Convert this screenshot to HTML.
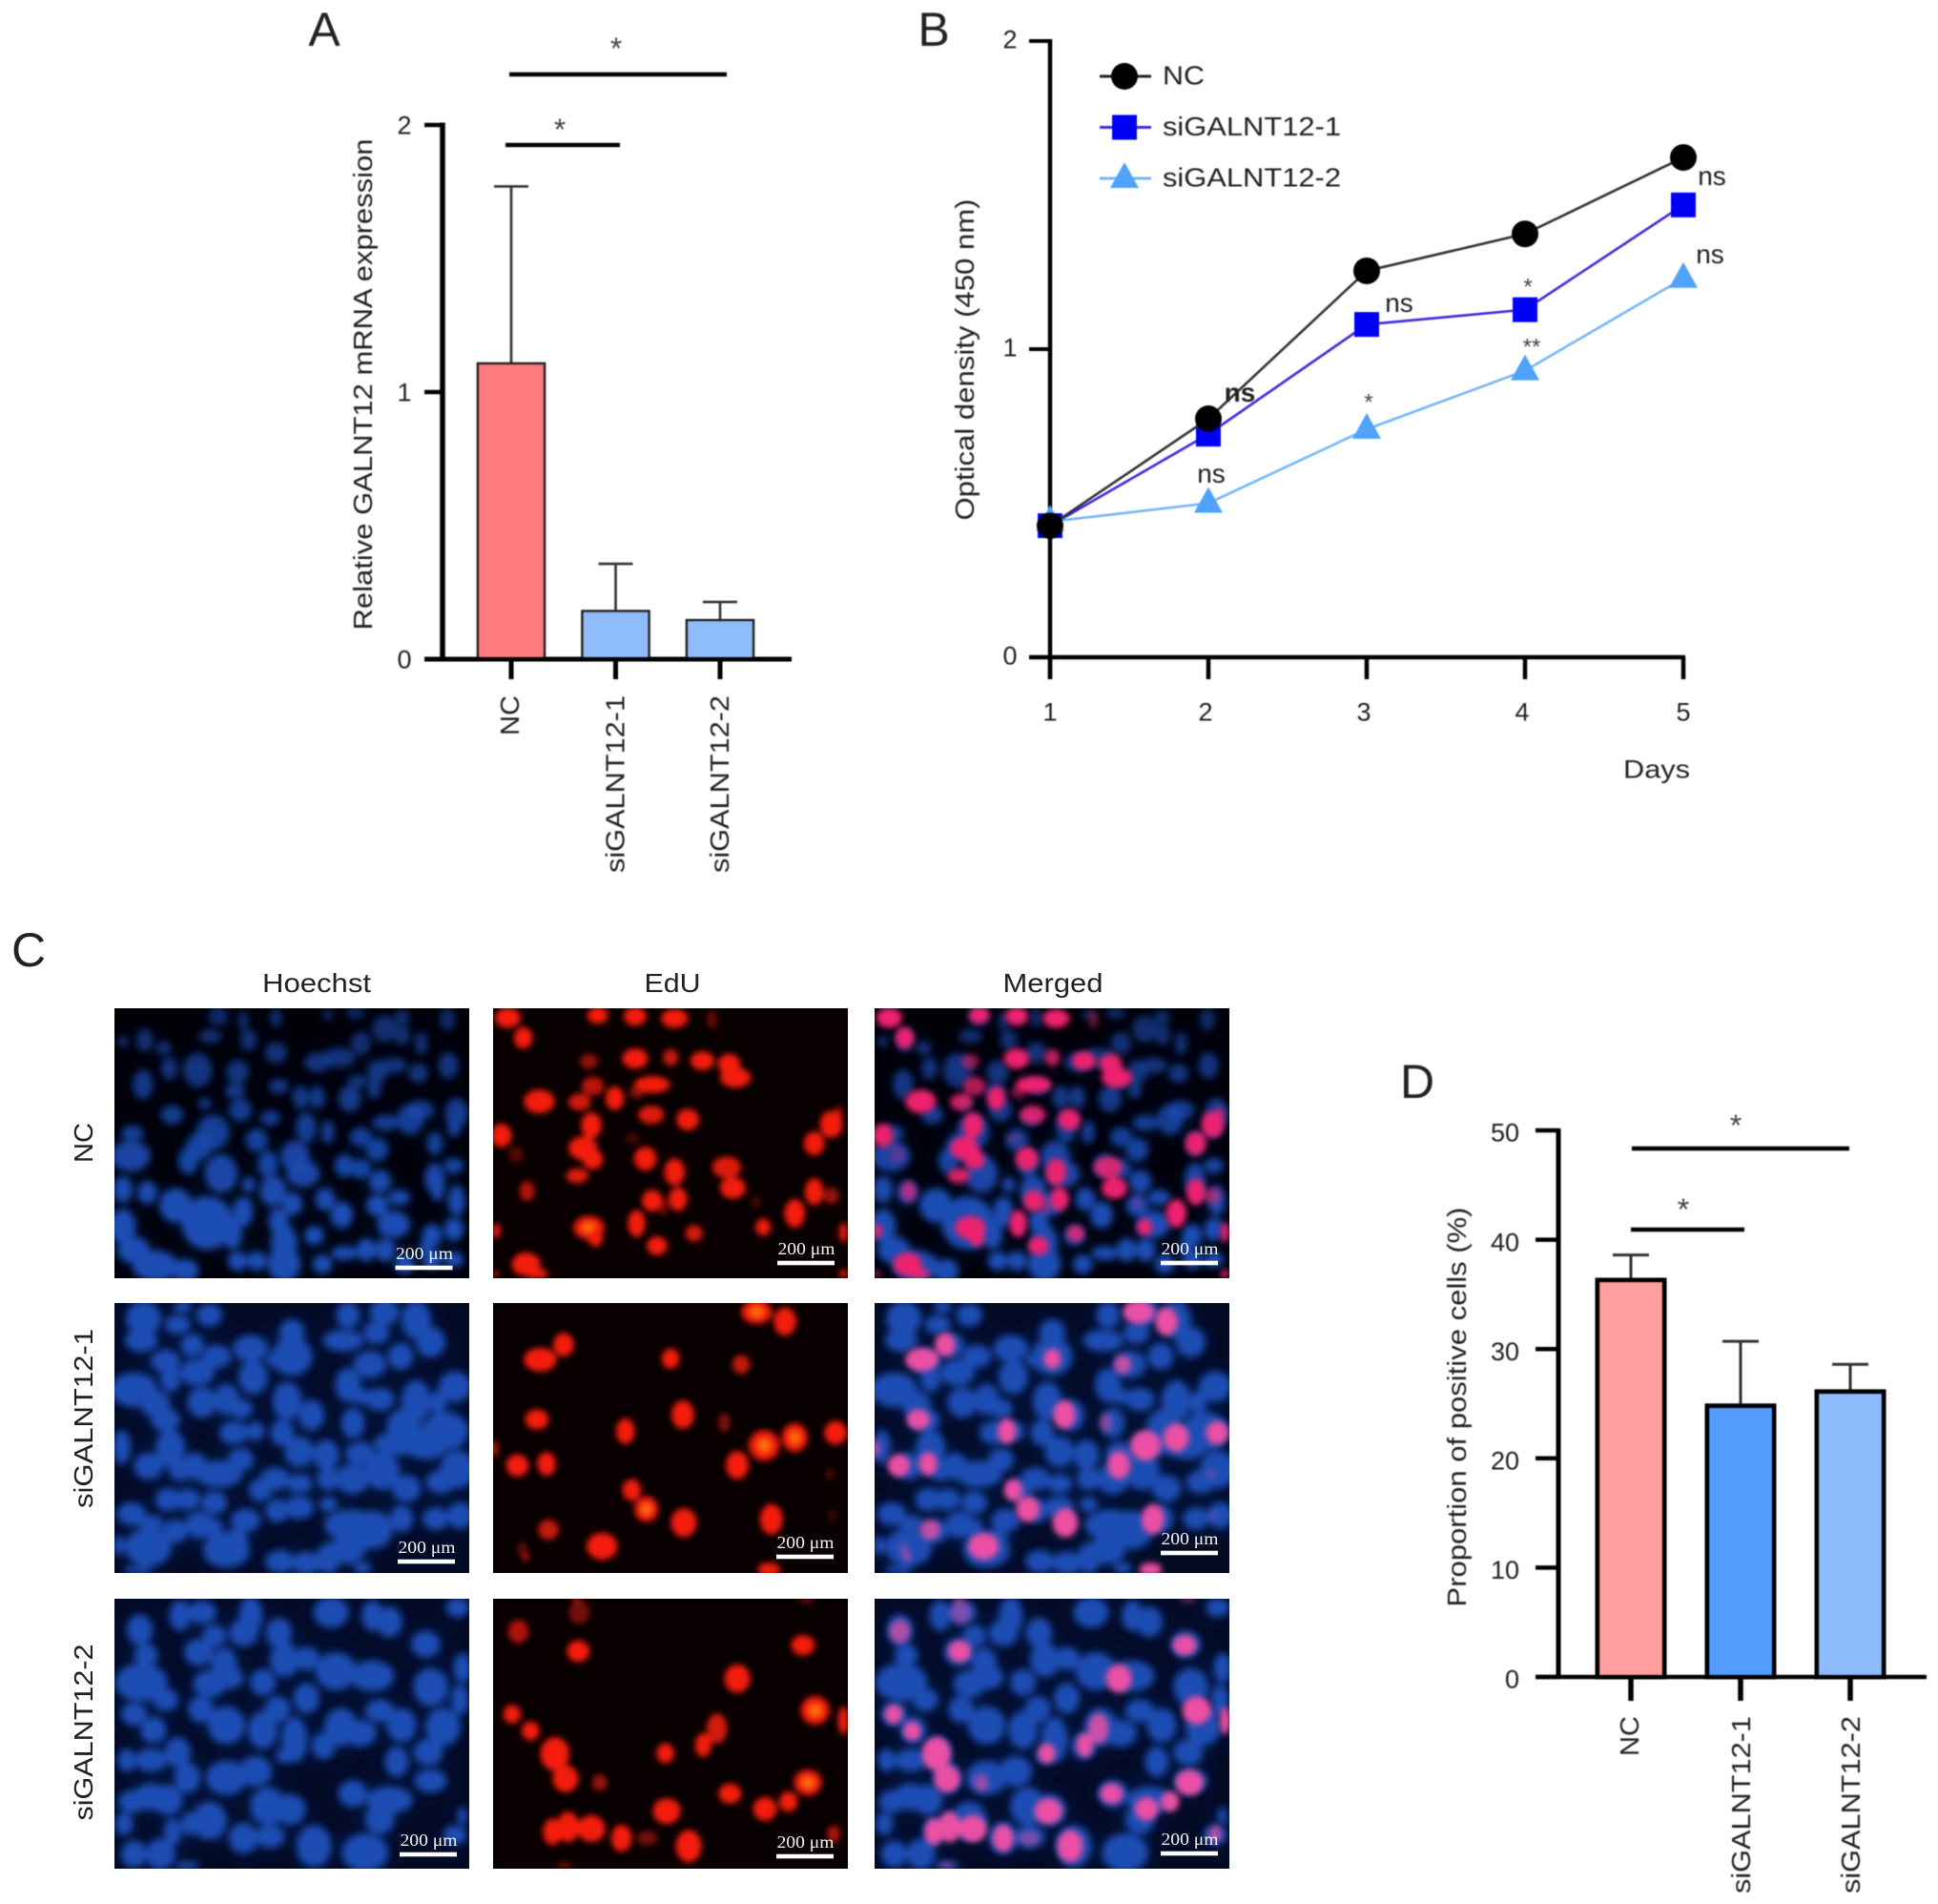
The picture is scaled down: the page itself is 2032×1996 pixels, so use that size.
<!DOCTYPE html>
<html lang="en">
<head>
<meta charset="utf-8">
<title>GALNT12 knockdown figure</title>
<style>
html,body{margin:0;padding:0;background:#fff;width:2032px;height:1996px;overflow:hidden}
svg{display:block}
text{font-family:"Liberation Sans",Arial,sans-serif;fill:#222}
.scale-text{font-family:"Liberation Serif","Times New Roman",serif;fill:#f2f2f2}
</style>
</head>
<body>
<svg id="fig" xmlns="http://www.w3.org/2000/svg" width="2032" height="1996" viewBox="0 0 2032 1996">
<defs>
<filter id="cellBlur" x="-5%" y="-5%" width="110%" height="110%"><feGaussianBlur stdDeviation="3.2"/></filter>
<filter id="blueBlur" x="-5%" y="-5%" width="110%" height="110%">
<feGaussianBlur in="SourceGraphic" stdDeviation="3.6" result="core"/>
<feGaussianBlur in="SourceGraphic" stdDeviation="11" result="wide"/>
<feComponentTransfer in="wide" result="glow"><feFuncA type="linear" slope="0.35"/></feComponentTransfer>
<feMerge><feMergeNode in="glow"/><feMergeNode in="core"/></feMerge>
</filter>
<filter id="softBlur" x="-2%" y="-2%" width="104%" height="104%"><feGaussianBlur stdDeviation="0.5"/></filter>
</defs>
<g id="panelA" filter="url(#softBlur)"></g>
<g id="panelB" filter="url(#softBlur)"></g>
<g id="panelC"></g>
<g id="panelD" filter="url(#softBlur)"></g>
</svg>
<script>
/* ---------- Panel A data ---------- */
const aCategories = ["NC", "siGALNT12-1", "siGALNT12-2"];
const aValues = [1.107, 0.18, 0.146];
const aErrorTops = [1.77, 0.357, 0.214];
const aColors = ["#FF7B7E", "#8FBCFA", "#8FBCFA"];
const aTicks = [0, 1, 2];
/* ---------- Panel B data ---------- */
const bDays = [1, 2, 3, 4, 5];
const bNC = [0.427, 0.774, 1.254, 1.374, 1.622];
const bSi1 = [0.427, 0.724, 1.08, 1.128, 1.468];
const bSi2 = [0.44, 0.50, 0.74, 0.93, 1.23];
const bTicks = [0, 1, 2];
/* ---------- Panel D data ---------- */
const dCategories = ["NC", "siGALNT12-1", "siGALNT12-2"];
const dValues = [36.3, 24.8, 26.1];
const dErrorTops = [38.6, 30.7, 28.6];
const dColors = ["#FF9E9E", "#559CFF", "#8DBBFB"];
const dTicks = [0, 10, 20, 30, 40, 50];

/* ---------- Axis functions ---------- */
const aY = v => 691 - 280 * v;
const aX = i => 536 + 109.5 * i;
const bY = v => 689 - 323 * v;
const bX = d => 1101 + 166 * (d - 1);
const dY = v => 1758 - 11.46 * v;
const dX = i => 1710 + 115 * i;

const NS = "http://www.w3.org/2000/svg";
function mk(tag, parent, props) {
  const el = document.createElementNS(NS, tag);
  for (const k in props) el.setAttribute(k, props[k]);
  parent.appendChild(el);
  return el;
}
function ln(parent, x1, y1, x2, y2, w, color) {
  return mk("line", parent, {x1, y1, x2, y2, "stroke-width": w, stroke: color || "#000"});
}
function label(parent, x, y, s, size, anchor, len, rot) {
  const t = mk("text", parent, {"font-size": size, "text-anchor": anchor || "middle"});
  if (rot) {
    t.setAttribute("transform", "translate(" + x + "," + y + ") rotate(-90)");
    t.setAttribute("x", 0);
    t.setAttribute("y", 0.36 * size);
  } else {
    t.setAttribute("x", x);
    t.setAttribute("y", y + 0.36 * size);
  }
  if (len) {
    t.setAttribute("textLength", len);
    t.setAttribute("lengthAdjust", "spacingAndGlyphs");
  }
  t.textContent = s;
  return t;
}
function star(parent, x, y, s, size) {
  const t = mk("text", parent, {x, y: y + 0.56 * size, "font-size": size, "text-anchor": "middle"});
  t.setAttribute("fill", "#444");
  t.style.fill = "#444";
  t.textContent = s;
  return t;
}
let el;

/* ---------- Panel A ---------- */
const pA = document.getElementById("panelA");
el = label(pA, 340, 30, "A", 50);


aValues.forEach((v, i) => {
  const cx = aX(i);
  el = ln(pA, cx, aY(v), cx, aY(aErrorTops[i]), 2.6, "#333");
  
  
  el = ln(pA, cx - 18, aY(aErrorTops[i]), cx + 18, aY(aErrorTops[i]), 2.6, "#333");
  
  
  el = mk("rect", pA, {x: cx - 35, y: aY(v), width: 70, height: aY(0) - aY(v), fill: aColors[i], stroke: "#222", "stroke-width": 2.6});
  
  
  el = ln(pA, cx, aY(0), cx, 712, 5);
  
  
  el = label(pA, cx - (i === 0 ? 2 : 1), 729, aCategories[i], 28, "end", i === 0 ? 42 : 186, true);
  
  
});
el = ln(pA, 464, aY(2) - 2.5, 464, aY(0) + 2.5, 5.5);


el = ln(pA, 445, aY(0), 830, aY(0), 5);


aTicks.forEach(v => {
  el = ln(pA, 445, aY(v), 464, aY(v), 4.5);
  
  
  el = label(pA, 424, aY(v), String(v), 27);
  
  
});
el = label(pA, 380, 403, "Relative GALNT12 mRNA expression", 28, "middle", 515, true);


el = ln(pA, 534, 78, 762, 78, 4.5);


el = ln(pA, 530, 152, 650, 152, 4.5);


el = star(pA, 646, 44, "*", 32);


el = star(pA, 587, 129, "*", 32);



/* ---------- Panel B ---------- */
const pB = document.getElementById("panelB");
el = label(pB, 979, 30, "B", 50);


el = ln(pB, 1101, bY(2) - 2, 1101, 712, 4.5);


el = ln(pB, 1079, bY(0), 1767, bY(0), 4.5);


bTicks.forEach(v => {
  el = ln(pB, 1079, bY(v), 1101, bY(v), 4);
  
  
  el = label(pB, 1059, bY(v) - 2, String(v), 27);
  
  
});
bDays.forEach(d => {
  el = ln(pB, bX(d), bY(0), bX(d), 712, 4.5);
  
  
  el = label(pB, bX(d) - (d === 1 || d === 5 ? 0 : 3), 746, String(d), 27);
  
  
});
el = label(pB, 1011, 377, "Optical density (450 nm)", 28, "middle", 337, true);


el = label(pB, 1737, 806, "Days", 27, "middle", 70);



function marker(parent, kind, x, y, color) {
  if (kind === "circle") return mk("circle", parent, {cx: x, cy: y, r: 14, fill: color});
  if (kind === "square") return mk("rect", parent, {x: x - 13, y: y - 13, width: 26, height: 26, fill: color});
  return mk("polygon", parent, {points: [x, y - 17, x - 15, y + 10, x + 15, y + 10].join(","), fill: color});
}
function series(values, kind, color, lineColor, name) {
  const g = mk("g", pB, {});
  
  
  const path = mk("polyline", g, {fill: "none", stroke: lineColor, "stroke-width": 2.6, points: values.map((v, i) => bX(bDays[i]) + "," + bY(v)).join(" ")});
  
  
  values.forEach((v, i) => {
    const m = marker(g, kind, bX(bDays[i]), bY(v), color);
    
    
  });
}
series(bSi2, "triangle", "#4FA3FB", "#73B5F8", "sigalnt12-2");
series(bSi1, "square", "#0000F5", "#3B2BE0", "sigalnt12-1");
series(bNC, "circle", "#000", "#333", "nc");

const legendNames = ["NC", "siGALNT12-1", "siGALNT12-2"];
const legendKinds = ["circle", "square", "triangle"];
const legendColors = ["#000", "#0000F5", "#4FA3FB"];
const legendLines = ["#222", "#3B2BE0", "#73B5F8"];
legendNames.forEach((n, i) => {
  const y = 80 + 53.5 * i;
  const g = mk("g", pB, {});
  
  
  const l = ln(g, 1153, y, 1207, y, 3, legendLines[i]);
  
  
  const m = marker(g, legendKinds[i], 1179, y, legendColors[i]);
  
  
  const t = label(g, 1219, y - 1.5, n, 28, "start", i === 0 ? 44 : 187);
  
  
});
const nsSpots = [[1300, 411], [1270, 496], [1467, 317], [1795, 184], [1793, 266]];
nsSpots.forEach((p, i) => {
  el = label(pB, p[0], p[1], "ns", 28);
  
  
  if (i === 0) el.setAttribute('font-weight', 'bold');
});
el = star(pB, 1435, 416, "*", 24);


el = star(pB, 1602, 295, "*", 24);


el = star(pB, 1606, 358, "**", 24);



/* ---------- Panel D ---------- */
const pD = document.getElementById("panelD");
el = label(pD, 1486, 1133, "D", 50);


dValues.forEach((v, i) => {
  const cx = dX(i);
  el = ln(pD, cx, dY(v), cx, dY(dErrorTops[i]), 3, "#333");
  
  
  el = ln(pD, cx - 19, dY(dErrorTops[i]), cx + 19, dY(dErrorTops[i]), 3, "#333");
  
  
  el = mk("rect", pD, {x: cx - 35, y: dY(v), width: 70, height: dY(0) - dY(v), fill: dColors[i], stroke: "#000", "stroke-width": 5});
  
  
  el = ln(pD, cx, dY(0), cx, 1783, 5.5);
  
  
  el = label(pD, cx + (i === 0 ? -2 : 0), 1799, dCategories[i], 28, "end", i === 0 ? 42 : 186, true);
  
  
});
el = ln(pD, 1634, dY(50) - 2, 1634, dY(0) + 2, 5);


el = ln(pD, 1610, dY(0), 2020, dY(0), 4.5);


dTicks.forEach(v => {
  el = ln(pD, 1610, dY(v), 1634, dY(v), 4.5);
  
  
  el = label(pD, 1593, dY(v) + 2, String(v), 27, "end");
  
  
});
el = label(pD, 1527, 1475, "Proportion of positive cells (%)", 28, "middle", 419, true);


el = ln(pD, 1711, 1204, 1939, 1204, 4.5);


el = ln(pD, 1710, 1289, 1829, 1289, 4.5);


el = star(pD, 1820, 1173, "*", 32);


el = star(pD, 1765, 1261, "*", 32);



/* ---------- Panel C: micrograph nuclei ---------- */
const blueNC = [[400,315,15,25],[445,330,8,28],[505,320,10,25],[600,310,8,15],[650,305,15,15],[735,320,12,22],[818,325,12,30],[265,390,13,30],[225,395,8,15],[300,415,12,18],[385,378,18,18],[455,390,13,28],[505,430,17,28],[580,460,20,25],[620,445,25,25],[660,400,15,30],[703,355,18,35],[735,375,12,25],[770,400,10,30],[310,480,12,30],[362,485,22,45],[435,490,17,30],[262,530,15,40],[820,470,15,35],[720,470,20,20],[765,495,15,25],[690,490,15,30],[655,520,15,15],[510,535,15,20],[430,550,15,20],[685,545,10,25],[315,625,17,25],[440,610,17,30],[375,590,10,15],[495,635,15,20],[550,570,12,30],[580,570,12,30],[640,575,17,35],[835,620,17,40],[770,610,20,25],[750,640,20,40],[705,650,20,20],[243,683,17,20],[390,680,25,45],[470,705,17,30],[560,665,15,40],[660,695,17,25],[600,680,10,30],[795,715,12,30],[830,670,10,20],[240,755,30,40],[365,725,20,35],[345,770,15,35],[540,755,22,40],[490,780,15,35],[690,735,17,30],[405,810,25,50],[630,785,15,30],[660,795,15,25],[555,810,25,35],[830,785,15,20],[695,835,17,30],[795,825,15,40],[225,860,15,35],[270,870,15,30],[322,910,25,45],[500,865,20,40],[455,845,10,20],[595,890,15,30],[690,910,17,28],[730,885,17,20],[800,860,10,30],[835,895,13,40],[535,905,15,30],[625,940,17,35],[720,970,25,35],[380,965,40,70],[425,1000,15,40],[445,930,15,40],[510,960,15,35],[575,1005,15,25],[790,1005,15,30],[830,985,15,30],[225,975,20,45],[520,1030,20,50],[245,1050,25,35],[285,1100,35,40],[340,1115,20,30],[435,1085,15,25],[470,1085,15,25],[520,1095,25,45],[590,1095,15,25],[630,1060,20,18],[670,1050,15,30],[705,1050,15,30],[740,1095,15,25],[790,1080,15,25],[830,1080,15,20],[780,1040,10,20]];
const redNC = [[65,80,25,30],[97,143,18,32],[250,72,20,25],[327,75,22,28],[408,82,26,28],[485,85,10,28,.4],[232,217,17,22,.6],[327,208,25,30],[400,205,15,25,.8],[465,215,23,28],[520,225,22,30],[533,268,30,30],[240,295,22,28,.75],[362,290,35,25],[330,315,15,18,.5],[130,343,30,35],[213,345,22,25,.85],[285,333,18,35],[360,385,25,27,.9],[435,400,22,32],[237,418,20,38],[52,450,20,35],[220,490,28,35],[240,525,20,30],[322,460,15,15,.25],[82,510,15,25,.3],[348,523,22,35],[408,565,20,40],[515,550,28,32,.9],[528,615,25,32],[208,577,22,22,.9],[105,625,15,30,.7],[362,655,20,32],[415,650,18,35],[385,675,10,25,.4],[695,627,18,40],[730,640,15,25,.6],[655,695,20,42],[575,660,10,18,.25],[330,727,17,40],[448,758,17,25,.85],[232,740,30,35,1,1],[245,770,15,28],[372,797,20,28],[590,738,15,25],[103,855,28,35],[125,885,22,15],[42,750,8,22],[755,755,8,30],[730,415,22,40],[695,475,20,35],[745,385,8,25,.7],[40,885,5,10],[755,885,8,12]];
const blueSi1 = [[100,95,30,45],[170,115,22,25],[235,85,22,30],[180,60,15,15],[520,85,20,35],[595,75,25,35],[660,100,25,50],[690,170,25,40],[95,165,28,30],[200,180,20,30],[320,190,30,35],[405,140,22,35],[405,215,35,50],[510,165,35,28],[578,140,22,30],[628,215,22,35],[565,240,28,35],[145,230,25,30],[250,215,25,30],[210,265,30,35],[155,285,17,35],[325,280,25,45],[375,225,20,20],[520,305,22,45],[545,340,17,20],[585,350,25,30],[740,310,28,40],[660,355,25,55],[705,360,15,30],[80,320,40,45],[125,365,25,35],[220,360,25,40],[270,350,22,40],[300,380,20,25],[395,355,25,50],[445,400,22,40],[145,415,25,30],[530,425,20,40],[285,455,25,30],[330,450,15,25],[385,455,20,35],[635,440,30,50],[720,450,40,50],[680,490,40,40],[620,490,40,30],[55,500,15,45],[155,505,25,50],[420,515,25,40],[475,525,22,40],[545,520,25,30],[300,540,22,30],[110,560,25,35],[205,560,22,35],[255,585,40,35],[175,570,20,30],[590,575,30,50],[370,600,25,30],[420,615,22,25],[480,600,20,30],[530,600,28,40],[745,570,30,50],[710,610,25,30],[340,635,20,30],[640,630,25,35],[150,665,22,30],[190,665,22,28],[245,675,22,30],[375,700,20,30],[420,690,25,30],[480,680,15,20],[310,730,25,30],[75,710,25,30],[115,740,22,20],[165,765,22,30],[215,745,25,35],[245,760,15,30],[525,745,45,40],[570,760,35,50],[520,820,30,40],[630,725,20,35],[700,725,22,30],[750,715,22,35],[110,815,40,50],[270,825,40,45],[290,790,20,30],[380,860,25,30],[435,865,25,30],[480,850,20,40],[90,885,25,10],[550,880,15,15],[50,810,10,25]];
const redSi1 = [[1360,75,30,35,1,1],[1418,105,22,42],[963,178,20,35],[915,225,32,35],[1183,222,17,30],[1328,240,17,28,.8],[1208,398,22,42],[908,413,23,30],[1090,450,18,38],[1293,423,12,28,.5],[1438,470,25,42,1,1],[1522,455,22,35],[1375,495,30,45,1,1],[822,505,5,25],[868,558,22,33],[928,553,18,35],[1320,557,22,42],[1103,635,18,32],[1133,695,23,38,1,1],[1210,738,25,43],[1390,727,22,45],[932,760,20,30,.8],[1042,812,30,40],[1510,585,10,18,.25],[1515,715,10,18,.2],[878,820,10,20,.35],[885,845,8,15,.6],[1385,885,22,20]];
const blueSi2 = [[175,100,18,40],[220,90,25,30],[320,100,20,50],[485,90,30,40],[570,100,18,40],[605,120,22,40],[745,75,20,25],[92,145,22,40],[245,165,20,30],[305,155,25,35],[378,155,22,40],[680,190,25,35],[105,225,20,30],[213,215,25,35],[265,250,22,40],[390,240,25,45],[435,235,22,30],[495,275,35,50],[570,290,38,40],[755,265,15,40],[95,310,45,50],[145,365,22,30],[235,315,28,35],[275,295,25,30],[345,310,22,35],[435,360,22,40],[690,325,30,50],[750,365,15,40],[80,410,22,30],[218,395,22,35],[375,395,22,35],[585,400,25,30],[270,445,32,50],[345,460,25,50],[120,460,22,35],[505,450,28,50],[545,470,28,35],[630,445,25,45],[715,450,30,50],[410,490,22,60],[470,510,20,35],[65,555,15,30],[115,555,28,30],[170,530,22,40],[390,540,15,20],[685,530,25,35],[620,560,20,40],[190,610,22,40],[270,610,35,45],[330,590,28,40],[690,620,28,30],[530,660,25,35],[75,685,22,30],[115,670,30,35],[150,680,25,40],[605,680,40,35],[355,700,30,50],[400,710,28,40],[585,740,25,40],[60,755,15,30],[195,755,15,30],[235,745,30,50],[160,780,15,35],[305,800,25,40],[360,795,25,30],[450,825,30,55],[555,845,40,50],[80,850,22,35],[135,850,25,40],[190,885,20,10],[755,730,8,25],[740,790,20,25]];
const redSi2 = [[870,150,20,35,.7],[995,90,20,35,.45],[990,50,10,8,.6],[993,212,22,32],[1455,193,23,30],[1320,298,25,42],[857,410,17,28],[895,463,17,28],[945,535,28,50],[967,613,25,40],[1037,625,15,25,.6],[1480,398,28,42,1,1],[1538,430,10,42],[1278,455,20,45,.85],[1250,507,16,35],[1172,533,17,30],[1305,660,22,30],[1465,625,27,38,1,1],[1425,685,18,30],[1377,708,23,35],[1175,715,27,38],[940,780,18,40],[972,765,22,45],[1020,770,27,40],[1082,800,20,40],[1135,800,20,22,.45],[1220,825,25,48],[1518,787,13,25,.7],[1462,50,15,8,.5],[965,885,15,8,.5]];

const rowNames = ["NC", "siGALNT12-1", "siGALNT12-2"];
const rowTops = [1057, 1366, 1676];
const colNames = ["Hoechst", "EdU", "Merged"];
const colLefts = [120, 517, 917];
const blueSets = [blueNC, blueSi1, blueSi2];
const redSets = [redNC, redSi1, redSi2];
const blueFrames = [[210,290,1.742,3], [40,47,1.96,3], [40,47,1.96,3]];
const redFrames = [[35,50,1.96,3], [818,47,1.96,3], [818,47,1.96,3]];
const backgrounds = ["#000006", "#030a24", "#030a24"];
const mergedPinks = ["#EC2470", "#EA50A4", "#EA50A4"];
const barSpots = [[[414.5,1329],[815,1324],[1217,1324]],[[417,1637],[814,1632],[1217,1628]],[[419,1944],[814,1946],[1217,1943]]];

const pC = document.getElementById("panelC");
el = label(pC, 30, 995, "C", 50);


const headCenters = [332, 705, 1104];
const headLens = [114, 59, 105];
colNames.forEach((n, i) => {
  el = label(pC, headCenters[i], 1030, n, 28, "middle", headLens[i]);
  
  
});
const rowCenters = [1198, 1487, 1816];
const rowLens = [42, 188, 185];
rowNames.forEach((n, i) => {
  el = label(pC, 87, rowCenters[i], n, 28, "middle", rowLens[i], true);
  
  
});

function drawCells(parent, list, frame, color, hotColor, fade, grow, filterId) {
  const g = mk("g", parent, {filter: "url(#" + filterId + ")"});
  
  
  list.forEach(c => {
    const x = (c[0] - frame[0]) / frame[2], y = (c[1] - frame[1]) / frame[3];
    const alpha = (c[4] === undefined ? 1 : c[4]) * (fade ? 0.5 + 0.5 * Math.min(1, y / 210) : 1);
    const e = mk("ellipse", g, {cx: x, cy: y, rx: c[2] / frame[2] * grow, ry: c[3] / frame[3] * grow, fill: color, "fill-opacity": alpha});
    
    
    if (c[5] && hotColor) {
      const h = mk("ellipse", g, {cx: x, cy: y, rx: c[2] / frame[2] * 0.4, ry: c[3] / frame[3] * 0.4, fill: hotColor});
      
      
    }
  });
  return g;
}

rowTops.forEach((top, r) => {
  colLefts.forEach((left, c) => {
    const s = mk("svg", pC, {x: left, y: top, width: 372, height: 283, viewBox: "0 0 372 283"});
    
    
    const bg = mk("rect", s, {width: 372, height: 283, fill: c === 1 ? "#080000" : backgrounds[r]});
    
    
    if (c !== 1) drawCells(s, blueSets[r], blueFrames[r], "#1B4DB4", null, r === 0, 1.18, "blueBlur");
    if (c !== 0) {
      drawCells(s, redSets[r], redFrames[r], c === 1 ? "#F41E10" : mergedPinks[r], c === 1 ? "#FF7410" : null, false, 1.06, "cellBlur");
    }
    const spot = barSpots[r][c];
    const bar = mk("rect", pC, {x: spot[0], y: spot[1] - 2.3, width: 60, height: 4.6, fill: "#fff"});
    
    
    const t = mk("text", pC, {x: spot[0] + 30.5, y: spot[1] - 9, "font-size": 18, "text-anchor": "middle", class: "scale-text", textLength: 60, lengthAdjust: "spacingAndGlyphs"});
    
    
    t.textContent = "200 \u03bcm";
  });
});
</script>
</body>
</html>
